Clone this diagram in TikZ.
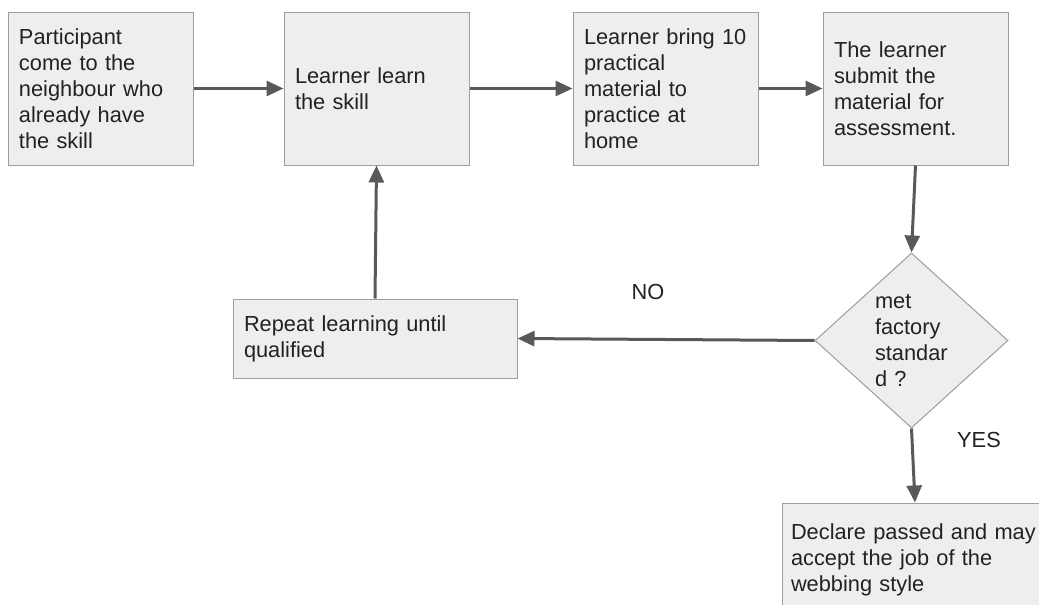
\documentclass[tikz,border=0pt]{standalone}
\usepackage{fontspec}
\setmainfont{Liberation Sans}
\usetikzlibrary{shapes.geometric,arrows.meta}

\definecolor{boxfill}{HTML}{EEEEEE}
\definecolor{boxline}{HTML}{9E9E9E}
\definecolor{arrowgray}{HTML}{595959}
\definecolor{textdark}{HTML}{222222}

\begin{document}
\begin{tikzpicture}[x=1pt,y=-1pt,
    stepbox/.style={rectangle,draw=boxline,line width=1pt,fill=boxfill,text=textdark,
      align=left,inner xsep=11pt,inner ysep=0pt,font=\fontsize{21.8}{26}\selectfont},
    checkbox/.style={diamond,draw=boxline,line width=1pt,fill=boxfill,text=textdark,
      align=left,inner sep=0pt,text width=73pt,font=\fontsize{21.8}{26}\selectfont},
    answer/.style={text=textdark,font=\fontsize{21.8}{26}\selectfont},
    flow/.style={draw=arrowgray,line width=3pt,-{Triangle[length=17pt,width=15pt]}}]

    % Page
    \useasboundingbox (0,0) rectangle (1039,605);
    \fill[white] (0,0) rectangle (1039,605);

    % Top row of steps
    \node[stepbox,minimum width=185pt,minimum height=153pt,text width=163pt] (participant) at (100.5,88.5)
      {Participant\\come to the\\neighbour who\\already have\\the skill};
    \node[stepbox,minimum width=185pt,minimum height=153pt,text width=163pt] (learn) at (376.5,88.5)
      {Learner learn\\the skill};
    \node[stepbox,minimum width=185pt,minimum height=153pt,text width=163pt] (bring) at (665.5,88.5)
      {Learner bring 10\\practical\\material to\\practice at\\home};
    \node[stepbox,minimum width=185pt,minimum height=153pt,text width=163pt] (submit) at (915.5,88.5)
      {The learner\\submit the\\material for\\assessment.};

    % Decision
    \node[checkbox,minimum width=193pt,minimum height=175pt] (check) at (911.5,340.5)
      {met\\factory\\standar\\d ?};

    % Outcomes
    \node[stepbox,minimum width=284pt,minimum height=79pt,text width=262pt] (repeat) at (375,338.5)
      {Repeat learning until\\qualified};
    \node[stepbox,minimum width=266pt,minimum height=114pt,text width=248pt,inner xsep=9pt] (declare) at (915,560)
      {Declare passed and may\\accept the job of the\\webbing style};

    % Answer labels
    \node[answer] (no) at (648,292) {NO};
    \node[answer] (yes) at (979,440) {YES};

    % Connectors
    \draw[flow] (participant) -- (learn);
    \draw[flow] (learn) -- (bring);
    \draw[flow] (bring) -- (submit);
    \draw[flow] (submit.south) -- (check.north);
    \draw[flow] (check.west) -- (repeat.east);
    \draw[flow] (repeat.north) -- (learn.south);
    \draw[flow] (check.south) -- (declare.north);
\end{tikzpicture}
\end{document}
